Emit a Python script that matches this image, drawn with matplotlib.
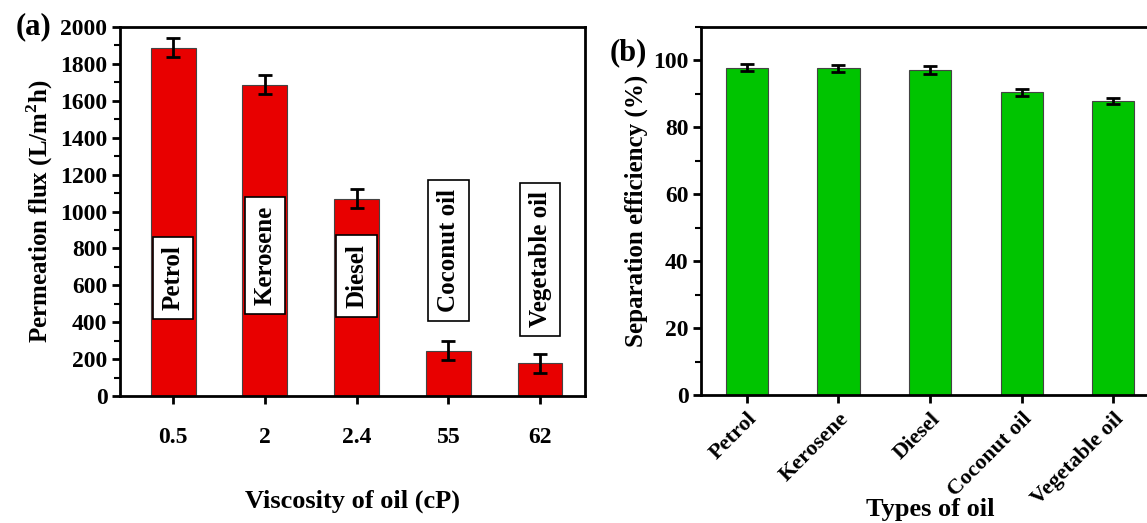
import numpy as np
import matplotlib
matplotlib.use("Agg")
import matplotlib.pyplot as plt
from matplotlib.ticker import MultipleLocator

plt.rcParams['font.family'] = ['Liberation Serif', 'DejaVu Serif']
plt.rcParams['font.weight'] = 'bold'
plt.rcParams['mathtext.fontset'] = 'custom'
plt.rcParams['mathtext.rm'] = 'Liberation Serif:bold'
plt.rcParams['mathtext.bf'] = 'Liberation Serif:bold'

oils = ["Petrol", "Kerosene", "Diesel", "Coconut oil", "Vegetable oil"]
viscosity = ["0.5", "2", "2.4", "55", "62"]
flux = [1888, 1688, 1070, 246, 177]
flux_err = [50, 52, 52, 52, 50]
efficiency = [97.9, 97.7, 97.2, 90.5, 88.0]
eff_err = [1.1, 1.0, 1.1, 1.0, 0.9]
# centre heights of the label boxes in panel (a)
box_y = [640, 760, 650, 790, 740]

fig = plt.figure(figsize=(11.47, 5.23), dpi=100)
ax1 = fig.add_axes([0.1046, 0.2428, 0.4054, 0.7055])
ax2 = fig.add_axes([0.6112, 0.2447, 0.3993, 0.7036])

x = np.arange(len(oils))
lw = 2.0

# panel (a)
ax1.bar(x, flux, width=0.49, color="#e80000", edgecolor="#444444", linewidth=0.8)
ax1.errorbar(x, flux, yerr=flux_err, fmt="none", ecolor="black", elinewidth=2,
             capsize=5, capthick=2)
for xi, yi, name in zip(x, box_y, oils):
    ax1.text(xi, yi, name, rotation=90, ha="center", va="center", fontsize=18,
             fontweight="bold",
             bbox=dict(boxstyle="square,pad=0.35", facecolor="white",
                       edgecolor="black", linewidth=1.2))
ax1.set_xlim(-0.58, 4.49)
ax1.set_ylim(0, 2000)
ax1.set_xticks(x)
ax1.set_xticklabels(viscosity)
ax1.yaxis.set_major_locator(MultipleLocator(200))
ax1.yaxis.set_minor_locator(MultipleLocator(100))
ax1.set_ylabel(r"Permeation flux (L/m$^{\mathbf{2}}$h)", fontsize=18,
               fontweight="bold", labelpad=4)
ax1.set_xlabel("Viscosity of oil (cP)", fontsize=19, fontweight="bold",
               labelpad=30)
ax1.tick_params(axis="x", labelsize=17, pad=16)
ax1.text(-0.225, 1.0, "(a)", transform=ax1.transAxes, fontsize=22,
         fontweight="bold", va="center", ha="left")

# panel (b)
ax2.bar(x, efficiency, width=0.46, color="#00c400", edgecolor="#444444", linewidth=0.8)
ax2.errorbar(x, efficiency, yerr=eff_err, fmt="none", ecolor="black",
             elinewidth=2, capsize=5, capthick=2)
ax2.set_xlim(-0.5, 4.5)
ax2.set_ylim(0, 110)
ax2.set_xticks(x)
ax2.set_xticklabels(oils, rotation=45, ha="right", rotation_mode="anchor")
ax2.yaxis.set_major_locator(MultipleLocator(20))
ax2.yaxis.set_minor_locator(MultipleLocator(10))
ax2.set_ylabel("Separation efficiency (%)", fontsize=18, fontweight="bold",
               labelpad=4)
ax2.set_xlabel("Types of oil", fontsize=19, fontweight="bold", labelpad=-8)
ax2.tick_params(axis="x", labelsize=16, pad=4)
ax2.text(-0.2, 0.93, "(b)", transform=ax2.transAxes, fontsize=22,
         fontweight="bold", va="center", ha="left")

for ax in (ax1, ax2):
    for sp in ax.spines.values():
        sp.set_linewidth(lw)
    ax.tick_params(which="major", direction="out", length=6, width=lw,
                   top=False, right=False)
    ax.tick_params(which="minor", direction="out", length=4, width=1.5,
                   top=False, right=False)
    ax.tick_params(axis="y", labelsize=17, pad=3)
    ax.xaxis.set_tick_params(which="minor", bottom=False)
    for lab in ax.get_xticklabels() + ax.get_yticklabels():
        lab.set_fontweight("bold")

fig.savefig("out.png", dpi=100)
